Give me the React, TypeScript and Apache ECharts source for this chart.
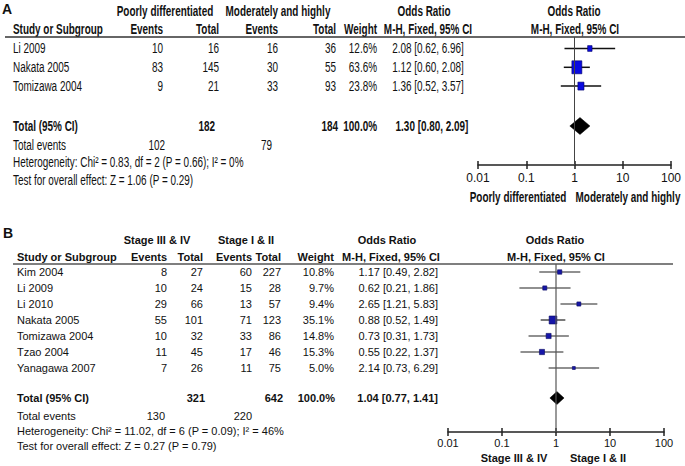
import React, { useEffect, useRef } from 'react';
import * as echarts from 'echarts';

// ---------- Panel A data ----------
const studiesA = ['Li 2009', 'Nakata 2005', 'Tomizawa 2004'];
const eventsA1 = [10, 83, 9];
const totalA1 = [16, 145, 21];
const eventsA2 = [16, 30, 33];
const totalA2 = [36, 55, 93];
const weightA = [12.6, 63.6, 23.8];
const orA = [2.08, 1.12, 1.36];
const lowA = [0.62, 0.6, 0.52];
const highA = [6.96, 2.08, 3.57];
const pooledA = [1.3, 0.8, 2.09];
const sumTotalA = [182, 184];
const sumEventsA = [102, 79];
const hetA = 'Heterogeneity: Chi\u00b2 = 0.83, df = 2 (P = 0.66); I\u00b2 = 0%';
const testA = 'Test for overall effect: Z = 1.06 (P = 0.29)';
const groupsA = ['Poorly differentiated', 'Moderately and highly'];

// ---------- Panel B data ----------
const studiesB = ['Kim 2004', 'Li 2009', 'Li 2010', 'Nakata 2005', 'Tomizawa 2004', 'Tzao 2004', 'Yanagawa 2007'];
const eventsB1 = [8, 10, 29, 55, 10, 11, 7];
const totalB1 = [27, 24, 66, 101, 32, 45, 26];
const eventsB2 = [60, 15, 13, 71, 33, 17, 11];
const totalB2 = [227, 28, 57, 123, 86, 46, 75];
const weightB = [10.8, 9.7, 9.4, 35.1, 14.8, 15.3, 5.0];
const orB = [1.17, 0.62, 2.65, 0.88, 0.73, 0.55, 2.14];
const lowB = [0.49, 0.21, 1.21, 0.52, 0.31, 0.22, 0.73];
const highB = [2.82, 1.86, 5.83, 1.49, 1.73, 1.37, 6.29];
const pooledB = [1.04, 0.77, 1.41];
const sumTotalB = [321, 642];
const sumEventsB = [130, 220];
const hetB = 'Heterogeneity: Chi\u00b2 = 11.02, df = 6 (P = 0.09); I\u00b2 = 46%';
const testB = 'Test for overall effect: Z = 0.27 (P = 0.79)';
const groupsB = ['Stage III & IV', 'Stage I & II'];

const tickValues = [0.01, 0.1, 1, 10, 100];
const tickLabels = ['0.01', '0.1', '1', '10', '100'];

const FONT_A = "'Liberation Sans',Arial,sans-serif";
const FONT_B = "'Liberation Sans',Arial,sans-serif";
const SQUEEZE_A = 0.71;

const W = 685;
const H = 466;

// layout (pixels)
const LA = { top: 37, bottom: 165, left: 478, right: 671, row0: 48.5, step: 18.8, totalPix: 126 };
const LB = { top: 264, bottom: 432, left: 448, right: 664, row0: 272, step: 16, totalPix: 398 };

function rowRange(L: any) {
  return { min: (L.top - L.row0) / L.step, max: (L.bottom - L.row0) / L.step, total: (L.totalPix - L.row0) / L.step };
}

function fmtCI(v: number[]) {
  return `${v[0].toFixed(2)} [${v[1].toFixed(2)}, ${v[2].toFixed(2)}]`;
}

function tickFormatter(v: number) {
  const i = tickValues.findIndex((t) => Math.abs(Math.log10(t) - Math.log10(v)) < 1e-6);
  return i >= 0 ? tickLabels[i] : '';
}

function makeRender(fill: string, edge: string, lineColor: string, lineWidth: number, kx: number, ky: number, dHalf: number) {
  return (params: any, api: any) => {
    const or = api.value(0), lo = api.value(1), hi = api.value(2), row = api.value(3), w = api.value(4), kind = api.value(5);
    const c = api.coord([or, row]);
    const l = api.coord([lo, row]);
    const h = api.coord([hi, row]);
    if (kind === 1) {
      return {
        type: 'polygon',
        shape: { points: [[l[0], c[1]], [c[0], c[1] - dHalf], [h[0], c[1]], [c[0], c[1] + dHalf]] },
        style: { fill: '#000', stroke: '#000', lineWidth: 0.5 },
      };
    }
    const sw = kx * Math.sqrt(w);
    const sh = ky * Math.sqrt(w);
    return {
      type: 'group',
      children: [
        { type: 'line', shape: { x1: l[0], y1: c[1], x2: h[0], y2: c[1] }, style: { stroke: lineColor, lineWidth } },
        { type: 'rect', shape: { x: c[0] - sw / 2, y: c[1] - sh / 2, width: sw, height: sh }, style: { fill, stroke: edge, lineWidth: 0.6 } },
      ],
    };
  };
}

function txt(x: number, y: number, text: string, font: string, align = 'left', sx = 1, fill = '#111') {
  return { type: 'text', x, y, scaleX: sx, silent: true, style: { text, x: 0, y: 0, font, fill, align, verticalAlign: 'middle' } };
}

export default function App() {
  const ref = useRef<HTMLDivElement>(null);
  useEffect(() => {
    document.body.style.margin = '0';
    const chart = echarts.init(ref.current!, null, { renderer: 'svg' });
    const rA = rowRange(LA);
    const rB = rowRange(LB);
    const yA = (r: number) => LA.row0 + r * LA.step;
    const yB = (r: number) => LB.row0 + r * LB.step;

    const fA = (b: boolean) => `${b ? 'bold ' : ''}14px ${FONT_A}`;
    const fB = (b: boolean) => `${b ? 'bold ' : ''}11px ${FONT_B}`;
    const tA = (x: number, y: number, s: string, b: boolean, align = 'left') => txt(x, y, s, fA(b), align, SQUEEZE_A);
    const tB = (x: number, y: number, s: string, b: boolean, align = 'left') => txt(x, y, s, fB(b), align, 1);

    const g: any[] = [];
    // ----- Panel A table -----
    g.push(txt(2, 9, 'A', `bold 14px ${FONT_B}`));
    g.push(tA(165, 11, groupsA[0], true, 'center'));
    g.push(tA(278, 11, groupsA[1], true, 'center'));
    g.push(tA(424, 11, 'Odds Ratio', true, 'center'));
    g.push(tA(574, 11, 'Odds Ratio', true, 'center'));
    const hyA = 29;
    g.push(tA(13, hyA, 'Study or Subgroup', true));
    g.push(tA(163, hyA, 'Events', true, 'right'));
    g.push(tA(219, hyA, 'Total', true, 'right'));
    g.push(tA(278, hyA, 'Events', true, 'right'));
    g.push(tA(336, hyA, 'Total', true, 'right'));
    g.push(tA(377, hyA, 'Weight', true, 'right'));
    g.push(tA(428, hyA, 'M-H, Fixed, 95% CI', true, 'center'));
    g.push(tA(575, hyA, 'M-H, Fixed, 95% CI', true, 'center'));
    g.push({ type: 'line', silent: true, shape: { x1: 5, y1: LA.top, x2: W, y2: LA.top }, style: { stroke: '#333', lineWidth: 1.5 } });
    studiesA.forEach((s, i) => {
      const y = yA(i);
      g.push(tA(13, y, s, false));
      g.push(tA(163, y, String(eventsA1[i]), false, 'right'));
      g.push(tA(219, y, String(totalA1[i]), false, 'right'));
      g.push(tA(278, y, String(eventsA2[i]), false, 'right'));
      g.push(tA(336, y, String(totalA2[i]), false, 'right'));
      g.push(tA(377, y, weightA[i].toFixed(1) + '%', false, 'right'));
      g.push(tA(428, y, fmtCI([orA[i], lowA[i], highA[i]]), false, 'center'));
    });
    const tyA = LA.totalPix;
    g.push(tA(13, tyA, 'Total (95% CI)', true));
    g.push(tA(215, tyA, String(sumTotalA[0]), true, 'right'));
    g.push(tA(338, tyA, String(sumTotalA[1]), true, 'right'));
    g.push(tA(377, tyA, '100.0%', true, 'right'));
    g.push(tA(432, tyA, fmtCI(pooledA), true, 'center'));
    g.push(tA(13, 145, 'Total events', false));
    g.push(tA(165, 145, String(sumEventsA[0]), false, 'right'));
    g.push(tA(272, 145, String(sumEventsA[1]), false, 'right'));
    g.push(tA(13, 162.5, hetA, false));
    g.push(tA(13, 180, testA, false));
    g.push(tA(518, 197, groupsA[0], true, 'center'));
    g.push(tA(628, 197, groupsA[1], true, 'center'));

    // ----- Panel B table -----
    g.push(txt(3, 233, 'B', `bold 14px ${FONT_B}`));
    g.push(tB(157, 240, groupsB[0], true, 'center'));
    g.push(tB(246, 240, groupsB[1], true, 'center'));
    g.push(tB(387, 240, 'Odds Ratio', true, 'center'));
    g.push(tB(555, 240, 'Odds Ratio', true, 'center'));
    const hyB = 257;
    g.push(tB(17, hyB, 'Study or Subgroup', true));
    g.push(tB(167, hyB, 'Events', true, 'right'));
    g.push(tB(203, hyB, 'Total', true, 'right'));
    g.push(tB(252, hyB, 'Events', true, 'right'));
    g.push(tB(281, hyB, 'Total', true, 'right'));
    g.push(tB(334, hyB, 'Weight', true, 'right'));
    g.push(tB(391, hyB, 'M-H, Fixed, 95% CI', true, 'center'));
    g.push(tB(556, hyB, 'M-H, Fixed, 95% CI', true, 'center'));
    g.push({ type: 'line', silent: true, shape: { x1: 13, y1: LB.top, x2: 673, y2: LB.top }, style: { stroke: '#555', lineWidth: 1.5 } });
    studiesB.forEach((s, i) => {
      const y = yB(i);
      g.push(tB(17, y, s, false));
      g.push(tB(167, y, String(eventsB1[i]), false, 'right'));
      g.push(tB(203, y, String(totalB1[i]), false, 'right'));
      g.push(tB(252, y, String(eventsB2[i]), false, 'right'));
      g.push(tB(281, y, String(totalB2[i]), false, 'right'));
      g.push(tB(334, y, weightB[i].toFixed(1) + '%', false, 'right'));
      g.push(tB(438, y, fmtCI([orB[i], lowB[i], highB[i]]), false, 'right'));
    });
    const tyB = LB.totalPix;
    g.push(tB(17, tyB, 'Total (95% CI)', true));
    g.push(tB(205, tyB, String(sumTotalB[0]), true, 'right'));
    g.push(tB(283, tyB, String(sumTotalB[1]), true, 'right'));
    g.push(tB(335, tyB, '100.0%', true, 'right'));
    g.push(tB(438, tyB, fmtCI(pooledB), true, 'right'));
    g.push(tB(17, 416, 'Total events', false));
    g.push(tB(165, 416, String(sumEventsB[0]), false, 'right'));
    g.push(tB(252, 416, String(sumEventsB[1]), false, 'right'));
    g.push(tB(17, 431, hetB, false));
    g.push(tB(17, 446, testB, false));
    g.push(tB(514, 458, groupsB[0], true, 'center'));
    g.push(tB(598, 458, groupsB[1], true, 'center'));

    const dataA: any[] = studiesA.map((_, i) => [orA[i], lowA[i], highA[i], i, weightA[i], 0]);
    dataA.push([pooledA[0], pooledA[1], pooledA[2], rA.total, 100, 1]);
    const dataB: any[] = studiesB.map((_, i) => [orB[i], lowB[i], highB[i], i, weightB[i], 0]);
    dataB.push([pooledB[0], pooledB[1], pooledB[2], rB.total, 100, 1]);

    const xAxisBase = (gridIndex: number, size: number, margin: number, showLabel: boolean, inside: boolean) => ({
      type: 'log',
      logBase: 10,
      gridIndex,
      min: tickValues[0],
      max: tickValues[tickValues.length - 1],
      position: 'bottom',
      axisLine: { show: showLabel, onZero: false, lineStyle: { color: '#222', width: 1.5 } },
      axisTick: { show: true, inside, length: 4, lineStyle: { color: '#222', width: 1.5 } },
      axisLabel: { show: showLabel, formatter: tickFormatter, color: '#111', fontFamily: FONT_B, fontSize: size, margin },
      splitLine: { show: false },
      minorTick: { show: false },
    });

    const option: any = {
      animation: false,
      backgroundColor: '#fff',
      grid: [
        { left: LA.left, right: W - LA.right, top: LA.top, bottom: H - LA.bottom },
        { left: LB.left, right: W - LB.right, top: LB.top, bottom: H - LB.bottom },
      ],
      xAxis: [
        xAxisBase(0, 12, 7, true, false),
        xAxisBase(0, 12, 7, false, true),
        xAxisBase(1, 11, 5, true, false),
        xAxisBase(1, 11, 5, false, true),
      ],
      yAxis: [
        { type: 'value', gridIndex: 0, inverse: true, min: rA.min, max: rA.max, show: false },
        { type: 'value', gridIndex: 1, inverse: true, min: rB.min, max: rB.max, show: false },
      ],
      series: [
        {
          type: 'line', xAxisIndex: 0, yAxisIndex: 0, data: [[1, rA.min], [1, rA.max]],
          symbol: 'none', lineStyle: { color: '#444', width: 1 }, silent: true,
        },
        {
          type: 'custom', xAxisIndex: 0, yAxisIndex: 0, data: dataA,
          encode: { x: [0, 1, 2], y: 3 },
          renderItem: makeRender('#0a0ae0', '#000066', '#111', 1.5, 1.25, 1.63, 8.5),
        },
        {
          type: 'line', xAxisIndex: 2, yAxisIndex: 1, data: [[1, rB.min], [1, rB.max]],
          symbol: 'none', lineStyle: { color: '#555', width: 1.2 }, silent: true,
        },
        {
          type: 'custom', xAxisIndex: 2, yAxisIndex: 1, data: dataB,
          encode: { x: [0, 1, 2], y: 3 },
          renderItem: makeRender('#1616a8', '#0a0a60', '#222', 1.2, 1.3, 1.35, 6.5),
        },
      ],
      graphic: g,
    };
    chart.setOption(option);
    return () => chart.dispose();
  }, []);
  return <div ref={ref} style={{ width: W, height: H, background: '#fff' }} />;
}
